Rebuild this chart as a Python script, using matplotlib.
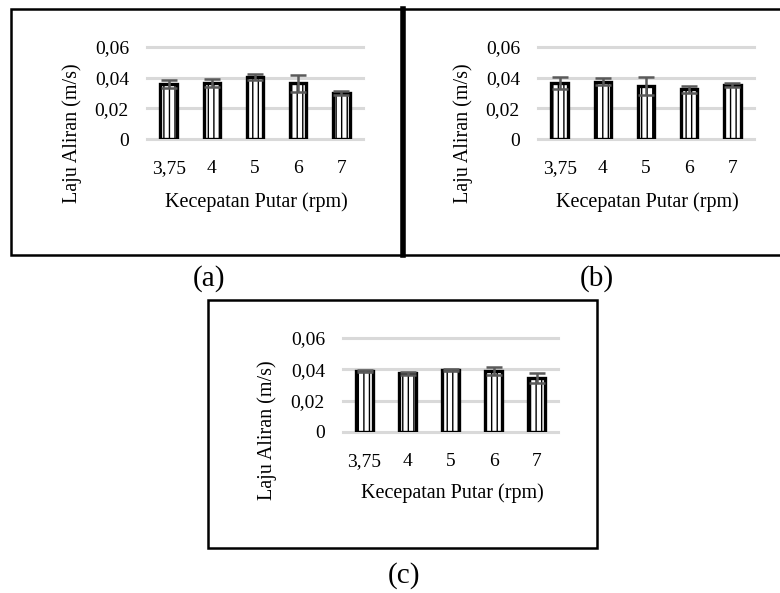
import numpy as np
import matplotlib
matplotlib.use('Agg')
import matplotlib.pyplot as plt
from matplotlib.patches import Rectangle

plt.rcParams['font.family'] = ['Liberation Serif', 'DejaVu Serif']
plt.rcParams['hatch.linewidth'] = 1.0

categories = ['3,75', '4', '5', '6', '7']

# (a)
flow_a = [0.0360, 0.0363, 0.0405, 0.0363, 0.0302]
err_a = [0.0025, 0.0027, 0.0020, 0.0054, 0.0013]
# (b)
flow_b = [0.0367, 0.0374, 0.0346, 0.0324, 0.0352]
err_b = [0.0040, 0.0022, 0.0060, 0.0022, 0.0011]
# (c)
flow_c = [0.0390, 0.0375, 0.0396, 0.0390, 0.0343]
err_c = [0.0005, 0.0010, 0.0005, 0.0027, 0.0031]

yticks = [0, 0.02, 0.04, 0.06]
ytick_labels = ['0', '0,02', '0,04', '0,06']

W, H = 780, 593
fig = plt.figure(figsize=(7.8, 5.93), dpi=100)


def px(x0, y0, x1, y1):
    # pixel box (from top-left) -> figure fraction rect
    return [x0 / W, 1 - y1 / H, (x1 - x0) / W, (y1 - y0) / H]


def panel(ax_box, values, errs, ylab_xy, xlab_xy):
    ax = fig.add_axes(px(*ax_box))
    x = np.arange(len(categories))
    ax.bar(x, values, width=0.38, color='white', edgecolor='black',
           linewidth=2.4, hatch='|||', zorder=3)
    ax.errorbar(x, values, yerr=errs, fmt='none', ecolor='#5a5a5a',
                elinewidth=1.8, capsize=5.5, capthick=1.8, zorder=4)
    ax.set_xlim(-0.5, len(categories) - 0.5)
    ax.set_ylim(0, 0.06)
    ax.set_yticks(yticks)
    ax.set_yticklabels(ytick_labels)
    ax.set_xticks(x)
    ax.set_xticklabels(categories)
    ax.tick_params(length=0, labelsize=14)
    ax.tick_params(axis='y', pad=13)
    ax.tick_params(axis='x', pad=15)
    ax.yaxis.grid(True, color='#d9d9d9', linewidth=2.2)
    ax.set_axisbelow(True)
    for s in ax.spines.values():
        s.set_visible(False)
    for gl in ax.get_ygridlines():
        gl.set_clip_on(False)
    fig.text(ylab_xy[0] / W, 1 - ylab_xy[1] / H, 'Laju Aliran (m/s)',
             rotation=90, ha='center', va='center', fontsize=14.5)
    fig.text(xlab_xy[0] / W, 1 - xlab_xy[1] / H, 'Kecepatan Putar (rpm)',
             ha='center', va='center', fontsize=14.5)
    return ax


panel((147, 47, 363, 139), flow_a, err_a, (72, 133), (256, 202))
panel((538, 47, 754, 139), flow_b, err_b, (463, 133), (647, 202))
panel((343, 338, 558, 432), flow_c, err_c, (267, 430), (452, 493))

# frames around panels
fig.patches.append(Rectangle((11 / W, 1 - 255 / H), 392 / W, 246 / H,
                             transform=fig.transFigure, fill=False,
                             edgecolor='black', linewidth=1.8))
fig.patches.append(Rectangle((403 / W, 1 - 255 / H), 380 / W, 246 / H,
                             transform=fig.transFigure, fill=False,
                             edgecolor='black', linewidth=1.8))
fig.add_artist(plt.Line2D([402.5 / W, 402.5 / W], [1 - 255 / H, 1 - 9 / H],
                          transform=fig.transFigure, color='black', linewidth=4))
fig.patches.append(Rectangle((208 / W, 1 - 548 / H), 389 / W, 248 / H,
                             transform=fig.transFigure, fill=False,
                             edgecolor='black', linewidth=1.8))

fig.text(209 / W, 1 - 279 / H, '(a)', ha='center', va='center', fontsize=21)
fig.text(597 / W, 1 - 279 / H, '(b)', ha='center', va='center', fontsize=21)
fig.text(404 / W, 1 - 576 / H, '(c)', ha='center', va='center', fontsize=21)

fig.savefig('out.png', dpi=100, facecolor='white')
